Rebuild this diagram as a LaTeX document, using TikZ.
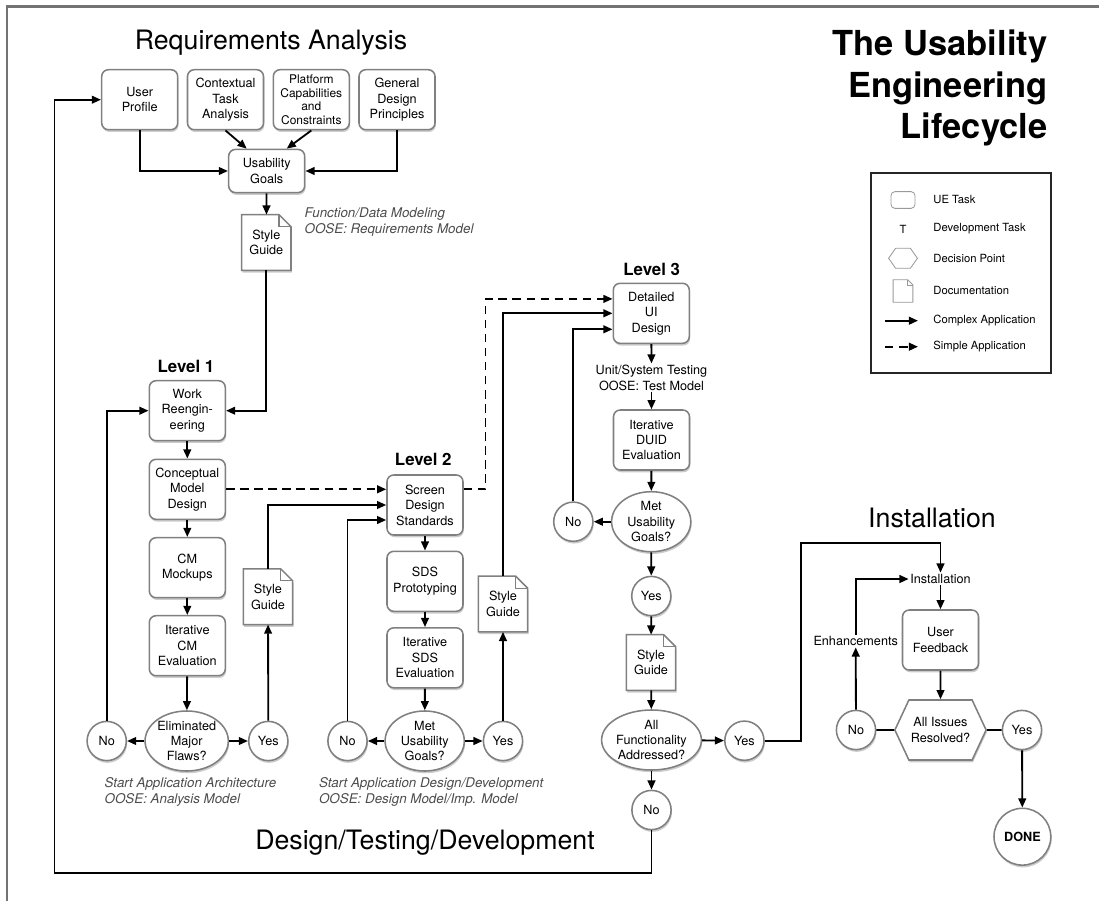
\documentclass[tikz,border=0pt]{standalone}
\usepackage{fontspec}
\setmainfont{TeX Gyre Heros}
\usetikzlibrary{arrows.meta,shapes.geometric,shapes.symbols,shadows}
\pgfdeclarelayer{bg}
\pgfsetlayers{bg,main}

\begin{document}
\begin{tikzpicture}[x=0.025cm, y=-0.025cm,
	font=\fontsize{9}{11}\selectfont,
	every node/.style={align=center, inner sep=1pt},
	dropsh/.style={drop shadow={shadow xshift=0.6pt, shadow yshift=-1.6pt, fill=black!40, opacity=0.5}},
	task/.style={draw=black!50, line width=1.1pt, fill=white, rounded corners=0.17cm, minimum width=1.9cm, minimum height=1.5cm, dropsh},
	docnode/.style={minimum width=1.22cm, minimum height=1.38cm},
	decide/.style={draw=black!50, line width=1.1pt, fill=white, ellipse, minimum width=1.98cm, minimum height=1.5cm, inner sep=0pt, dropsh},
	answer/.style={draw=black!50, line width=1.1pt, fill=white, circle, minimum size=0.98cm, inner sep=0pt, dropsh},
	hexa/.style={draw=black!50, line width=1.1pt, fill=white, signal, signal to=east and west, signal pointer angle=130, minimum width=2.28cm, minimum height=1.5cm, inner sep=0pt, dropsh},
	arr/.style={-{Triangle[length=6.5pt,width=5.5pt]}, line width=1.3pt},
	dsh/.style={arr, dash pattern=on 6pt off 4pt},
	note/.style={font=\fontsize{9.5}{12}\selectfont\itshape, text=black!70, align=left, anchor=west},
	head/.style={font=\fontsize{19}{22}\selectfont},
	lvl/.style={font=\fontsize{12}{14}\selectfont\bfseries},
	keytext/.style={font=\fontsize{8}{10}\selectfont, anchor=west}]
\useasboundingbox (0,0) rectangle (1099,901);
\draw[black!55, line width=1.5pt] (7,901) -- (7,6.5) -- (1099,6.5);

\node[head] (treq) at (271,43) {Requirements Analysis};
\node[font=\fontsize{24.5}{29.5}\selectfont\bfseries, align=right, anchor=east] (tmain) at (1049,88.3) {The Usability\\Engineering\\Lifecycle};
\node[head] (tdesign) at (425,843) {Design/Testing/Development};
\node[head] (tinst) at (932,518) {Installation};

\node[task] (uprof) at (139.7,99.7) {User\\Profile};
\node[task] (ctask) at (225.5,99.7) {Contextual\\Task\\Analysis};
\node[task, font=\fontsize{8.5}{9.6}\selectfont] (platf) at (311.3,99.7) {Platform\\Capabilities\\and\\Constraints};
\node[task] (gdesign) at (397,99.7) {General\\Design\\Principles};
\node[task, minimum height=1.08cm] (ugoals) at (266.7,171) {Usability\\Goals};
\node[docnode] (sg0) at (266.3,242.5) {Style\\Guide};
\node[note] (note0) at (303,222) {Function/Data Modeling\\OOSE: Requirements Model};

\node[lvl] (lvl1) at (186,366) {Level 1};
\node[task] (wre) at (187.3,410.7) {Work\\Reengin-\\eering};
\node[task] (cmd) at (187.3,489.3) {Conceptual\\Model\\Design};
\node[task] (cmm) at (187.3,567.7) {CM\\Mockups};
\node[task] (icme) at (187.3,645.7) {Iterative\\CM\\Evaluation};
\node[decide] (elim) at (186.7,741) {Eliminated\\Major\\Flaws?};
\node[answer] (no1) at (106.7,741) {No};
\node[answer] (yes1) at (268.3,741) {Yes};
\node[docnode] (sg1) at (268,596.7) {Style\\Guide};
\node[note] (note1) at (103,792) {Start Application Architecture\\OOSE: Analysis Model};

\node[lvl] (lvl2) at (423.3,459.3) {Level 2};
\node[task] (sds) at (425,505) {Screen\\Design\\Standards};
\node[task] (sdsp) at (425,581.3) {SDS\\Prototyping};
\node[task] (isds) at (425,657.8) {Iterative\\SDS\\Evaluation};
\node[decide] (met2) at (424.7,741) {Met\\Usability\\Goals?};
\node[answer] (no2) at (347.5,741) {No};
\node[answer] (yes2) at (503,741) {Yes};
\node[docnode] (sg2) at (503,604) {Style\\Guide};
\node[note] (note2) at (317.4,792) {Start Application Design/Development\\OOSE: Design Model/Imp. Model};

\node[lvl] (lvl3) at (651.7,269) {Level 3};
\node[task] (duid) at (651.3,313.3) {Detailed\\UI\\Design};
\node (utest) at (651.5,377.7) {Unit/System Testing\\OOSE: Test Model};
\node[task] (iduid) at (651.5,440) {Iterative\\DUID\\Evaluation};
\node[decide] (met3) at (651.2,521.7) {Met\\Usability\\Goals?};
\node[answer] (no3) at (573.3,521.7) {No};
\node[answer] (yes3) at (651.3,596) {Yes};
\node[docnode] (sg3) at (651,662.5) {Style\\Guide};
\node[decide, minimum width=2.28cm] (allf) at (651.5,740) {All\\Functionality\\Addressed?};
\node[answer] (yes4) at (744.4,740.7) {Yes};
\node[answer] (no4) at (651.5,810) {No};

\node (inst) at (940.5,579) {Installation};
\node[task] (ufb) at (940.5,640) {User\\Feedback};
\node[hexa] (issues) at (940.5,730) {All Issues\\Resolved?};
\node[answer] (no5) at (856,730) {No};
\node[answer] (yes5) at (1022,730) {Yes};
\node (enh) at (855.7,641) {Enhancements};
\node[answer, minimum size=1.42cm, font=\fontsize{9}{11}\selectfont\bfseries] (done) at (1022.4,836.7) {DONE};

\coordinate (dashbend) at (485.5,489.3);
\coordinate (instbend) at (801.4,543.3);
\coordinate (loopbl) at (54.5,873.3);

\node[draw=black!85, line width=1.2pt, minimum width=4.5cm, minimum height=5cm] (legend) at (961,273) {};
\node[draw=black!40, line width=0.6pt, rounded corners=0.1cm, minimum width=0.6cm, minimum height=0.42cm] (k1) at (903,200) {};
\node[font=\fontsize{8}{10}\selectfont] (k2) at (903,229) {T};
\node[draw=black!40, line width=0.6pt, signal, signal to=east and west, signal pointer angle=110, minimum width=0.72cm, minimum height=0.5cm, inner sep=0pt] (k3) at (903,258.3) {};
\node[minimum width=0.48cm, minimum height=0.55cm] (k4) at (903,291) {};
\coordinate (k5a) at (885,320.7);
\coordinate (k5b) at (918,320.7);
\coordinate (k6a) at (885,346.7);
\coordinate (k6b) at (918,346.7);
\node[keytext] (t1) at (931.7,199.3) {UE Task};
\node[keytext] (t2) at (931.7,229) {Development Task};
\node[keytext] (t3) at (931.7,258.3) {Decision Point};
\node[keytext] (t4) at (931.7,290) {Documentation};
\node[keytext] (t5) at (931.7,320.7) {Complex Application};
\node[keytext] (t6) at (931.7,346.7) {Simple Application};

\begin{pgfonlayer}{bg}
\foreach \d in {sg0,sg1,sg2,sg3}{
	\fill[black!40, opacity=0.5] ([shift={(0.6pt,-1.6pt)}]\d.south west) -- ([shift={(0.6pt,-1.6pt)}]\d.north west) -- ([xshift=-0.3cm+0.6pt, yshift=-1.6pt]\d.north east) -- ([xshift=0.6pt, yshift=-0.3cm-1.6pt]\d.north east) -- ([shift={(0.6pt,-1.6pt)}]\d.south east) -- cycle;
	\filldraw[fill=white, draw=black!50, line width=1.1pt] (\d.south west) -- (\d.north west) -- ([xshift=-0.3cm]\d.north east) -- ([yshift=-0.3cm]\d.north east) -- (\d.south east) -- cycle;
	\draw[black!50, line width=0.8pt] ([xshift=-0.3cm]\d.north east) |- ([yshift=-0.3cm]\d.north east);
}
\draw[black!40, line width=0.6pt] (k4.south west) -- (k4.north west) -- ([xshift=-0.13cm]k4.north east) -- ([yshift=-0.13cm]k4.north east) -- (k4.south east) -- cycle;
\draw[black!40, line width=0.5pt] ([xshift=-0.13cm]k4.north east) |- ([yshift=-0.13cm]k4.north east);
\end{pgfonlayer}

\draw[arr] (k5a) -- (k5b);
\draw[dsh] (k6a) -- (k6b);

\draw[arr] (uprof) |- (ugoals);
\draw[arr] (gdesign) |- (ugoals);
\path[arr]
(ctask.south) edge ([xshift=-0.5cm]ugoals.north)
(platf.south) edge ([xshift=0.5cm]ugoals.north)
(ugoals) edge (sg0)
;
\draw[arr] (sg0) |- (wre);

\path[arr]
(wre) edge (cmd)
(cmd) edge (cmm)
(cmm) edge (icme)
(icme) edge (elim)
(elim) edge (no1)
edge (yes1)
(yes1) edge (sg1)
;
\draw[arr] (no1) |- (wre);
\draw[arr] (sg1) |- (sds);
\draw[dsh] (cmd) -- (cmd -| sds.west);

\path[arr]
(sds) edge (sdsp)
(sdsp) edge (isds)
(isds) edge (met2)
(met2) edge (no2)
edge (yes2)
(yes2) edge (sg2)
;
\draw[arr] (no2) |- ([yshift=-0.375cm]sds.west);
\draw[arr] (sg2) |- (duid);
\draw[dsh] (sds.east |- dashbend) -- (dashbend) |- ([yshift=0.36cm]duid.west);

\path[arr]
(duid) edge (utest)
(utest) edge (iduid)
(iduid) edge (met3)
(met3) edge (no3)
edge (yes3)
(yes3) edge (sg3)
(sg3) edge (allf)
(allf) edge (yes4)
edge (no4)
;
\draw[arr] (no3) |- ([yshift=-0.4cm]duid.west);
\draw[arr] (yes4) -| (instbend) -| (inst);
\draw[arr] (no4) |- (loopbl) |- (uprof);

\path[arr]
(inst) edge (ufb)
(ufb) edge (issues)
(no5) edge (enh)
(yes5) edge (done)
;
\draw[line width=1.3pt] (no5) -- (issues) -- (yes5);
\draw[arr] (enh) |- (inst);
\end{tikzpicture}
\end{document}
